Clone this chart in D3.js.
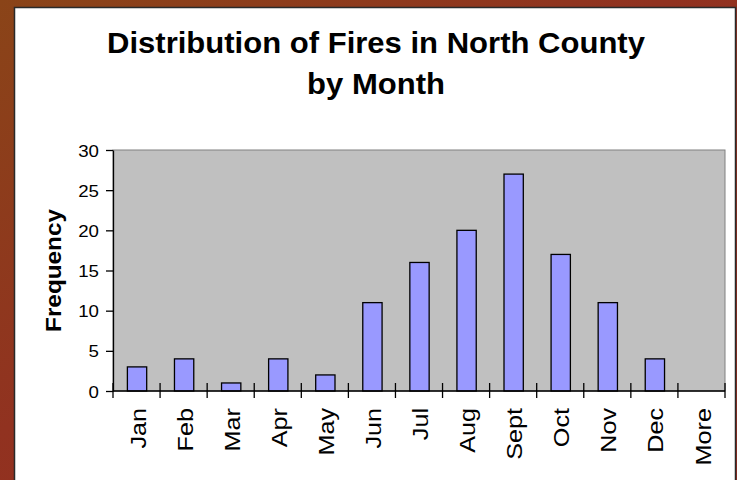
<!DOCTYPE html>
<html>
<head>
<meta charset="utf-8">
<script src="https://cdn.jsdelivr.net/npm/d3@7"></script>
<style>
html,body{margin:0;padding:0;background:#fff;}
svg{display:block;font-family:"Liberation Sans",Arial,sans-serif;}
</style>
</head>
<body>
<svg id="chart" width="737" height="480"></svg>
<script>
const categories = ["Jan","Feb","Mar","Apr","May","Jun","Jul","Aug","Sept","Oct","Nov","Dec","More"];
const frequency = [3,4,1,4,2,11,16,20,27,17,11,4,0];
const yTicks = [0,5,10,15,20,25,30];
const titleLines = ["Distribution of Fires in North County","by Month"];
const yLabel = "Frequency";

const svg = d3.select("#chart");
const W = 737, H = 480;

// background frame gradient
const defs = svg.append("defs");
const grad = defs.append("linearGradient").attr("id","bg")
  .attr("x1","0").attr("y1","0").attr("x2","1").attr("y2","1");
grad.append("stop").attr("offset","0").attr("stop-color","#8a4418");
grad.append("stop").attr("offset","0.45").attr("stop-color","#913220");
grad.append("stop").attr("offset","1").attr("stop-color","#9a2a1c");
svg.append("rect").attr("width",W).attr("height",H).attr("fill","url(#bg)");

// white panel
svg.append("rect").attr("x",14.5).attr("y",7.5).attr("width",721).attr("height",480)
  .attr("fill","#fff").attr("stroke","#2a2a2a").attr("stroke-width",1.5);

const plot = {left:113, right:725, top:150, bottom:391};

const x = d3.scaleBand().domain(categories).range([plot.left, plot.right]).padding(0);
const y = d3.scaleLinear().domain([0,30]).range([plot.bottom, plot.top]);

// plot area
svg.append("rect").attr("x",plot.left).attr("y",plot.top)
  .attr("width",plot.right-plot.left).attr("height",plot.bottom-plot.top)
  .attr("fill","#c0c0c0").attr("stroke","#808080").attr("stroke-width",1);

// bars
const bw = x.bandwidth()*0.41;
svg.append("g").selectAll("rect").data(categories).join("rect")
  .attr("x", (c)=> x(c) + (x.bandwidth()-bw)/2 + 0.5)
  .attr("y", (c,i)=> y(frequency[i]))
  .attr("width", bw)
  .attr("height", (c,i)=> y(0)-y(frequency[i]))
  .attr("fill","#9999ff")
  .attr("stroke","#000")
  .attr("stroke-width",1.3)
  .style("display",(c,i)=> frequency[i] > 0 ? null : "none");

// y axis
const yAxis = svg.append("g").attr("transform",`translate(${plot.left},0)`)
  .call(d3.axisLeft(y).tickValues(yTicks).tickSize(7).tickPadding(7).tickSizeOuter(0));
yAxis.select(".domain").attr("stroke","#000").attr("stroke-width",1.3);
yAxis.selectAll(".tick line").attr("stroke","#000").attr("stroke-width",1.3);
yAxis.selectAll(".tick text")
  .attr("x", null)
  .attr("transform","translate(-14,0) scale(1.1,1)")
  .attr("dy","0.36em")
  .attr("font-size",17).attr("fill","#000")
  .attr("font-family","'Liberation Sans',Arial,sans-serif");

// x axis line
svg.append("line").attr("x1",plot.left).attr("x2",plot.right)
  .attr("y1",y(0)).attr("y2",y(0)).attr("stroke","#000").attr("stroke-width",1.3);
// crossing ticks at band boundaries
const bounds = categories.map(c=>x(c)).concat([x(categories[categories.length-1])+x.bandwidth()]);
svg.append("g").selectAll("line").data(bounds).join("line")
  .attr("x1",d=>d).attr("x2",d=>d)
  .attr("y1",y(0)-8).attr("y2",y(0)+7)
  .attr("stroke","#000").attr("stroke-width",1.3);

// x labels rotated
svg.append("g").selectAll("text").data(categories).join("text")
  .attr("transform", c=>`translate(${x(c)+x.bandwidth()/2+1},408) rotate(-90) scale(1.12,1)`)
  .attr("text-anchor","end")
  .attr("dy","0.36em")
  .attr("font-size",22.5)
  .attr("fill","#000")
  .text(c=>c);

// y label
svg.append("text")
  .attr("transform",`translate(61,${(plot.top+plot.bottom)/2}) rotate(-90) scale(1.13,1)`)
  .attr("text-anchor","middle")
  .attr("font-size",21.5).attr("font-weight","bold")
  .text(yLabel);

// title
svg.append("g").selectAll("text").data(titleLines).join("text")
  .attr("transform",(d,i)=>`translate(376,${53 + i*41}) scale(1.035,1)`)
  .attr("text-anchor","middle")
  .attr("font-size",30).attr("font-weight","bold")
  .attr("fill","#000")
  .text(d=>d);
</script>
</body>
</html>
